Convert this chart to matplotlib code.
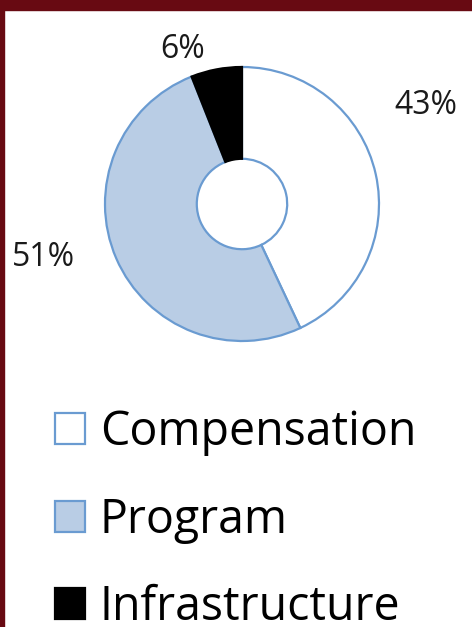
import matplotlib
matplotlib.use("Agg")
import matplotlib.pyplot as plt
from matplotlib.patches import Rectangle

# data
categories = ["Compensation", "Program", "Infrastructure"]
shares = [43, 51, 6]
pct_labels = ["43%", "51%", "6%"]

fills = ["white", "#b9cde5", "black"]
edges = ["#6a9bd1", "#6a9bd1", "black"]

W, H = 472, 627
fig = plt.figure(figsize=(W / 100, H / 100), dpi=100)
ax = fig.add_axes([0, 0, 1, 1])

plt.rcParams["font.family"] = ["Open Sans", "DejaVu Sans"]

# maroon frame (top + left)
ax.add_patch(Rectangle((0, H - 10), W, 10, color="#680a12", zorder=5))
ax.add_patch(Rectangle((0, 0), 3.5, H, color="#680a12", zorder=5))

cx, cy, r = 242, H - 204, 137
wedges, _ = ax.pie(shares, startangle=90, counterclock=False, colors=fills,
                   center=(cx, cy), radius=r, frame=True,
                   wedgeprops=dict(width=r * 0.67, linewidth=1.6))
for w, ec in zip(wedges, edges):
    w.set_edgecolor(ec)
ax.set_xlim(0, W)
ax.set_ylim(0, H)
ax.set_aspect("equal")
ax.axis("off")

# percentage labels
label_pos = [(426, H - 106), (43, H - 258), (183, H - 50)]
for txt, (x, y) in zip(pct_labels, label_pos):
    ax.text(x, y, txt, fontsize=23, color="#1a1a1a", ha="center", va="center")

leg = ax.legend(wedges, categories, loc="upper left",
                bbox_to_anchor=(36 / W, 1 - 390 / H), frameon=False,
                fontsize=33.5, handlelength=0.65, handleheight=0.65,
                handletextpad=0.32, labelspacing=0.86, borderaxespad=0)

plt.savefig("out.png", dpi=100)
